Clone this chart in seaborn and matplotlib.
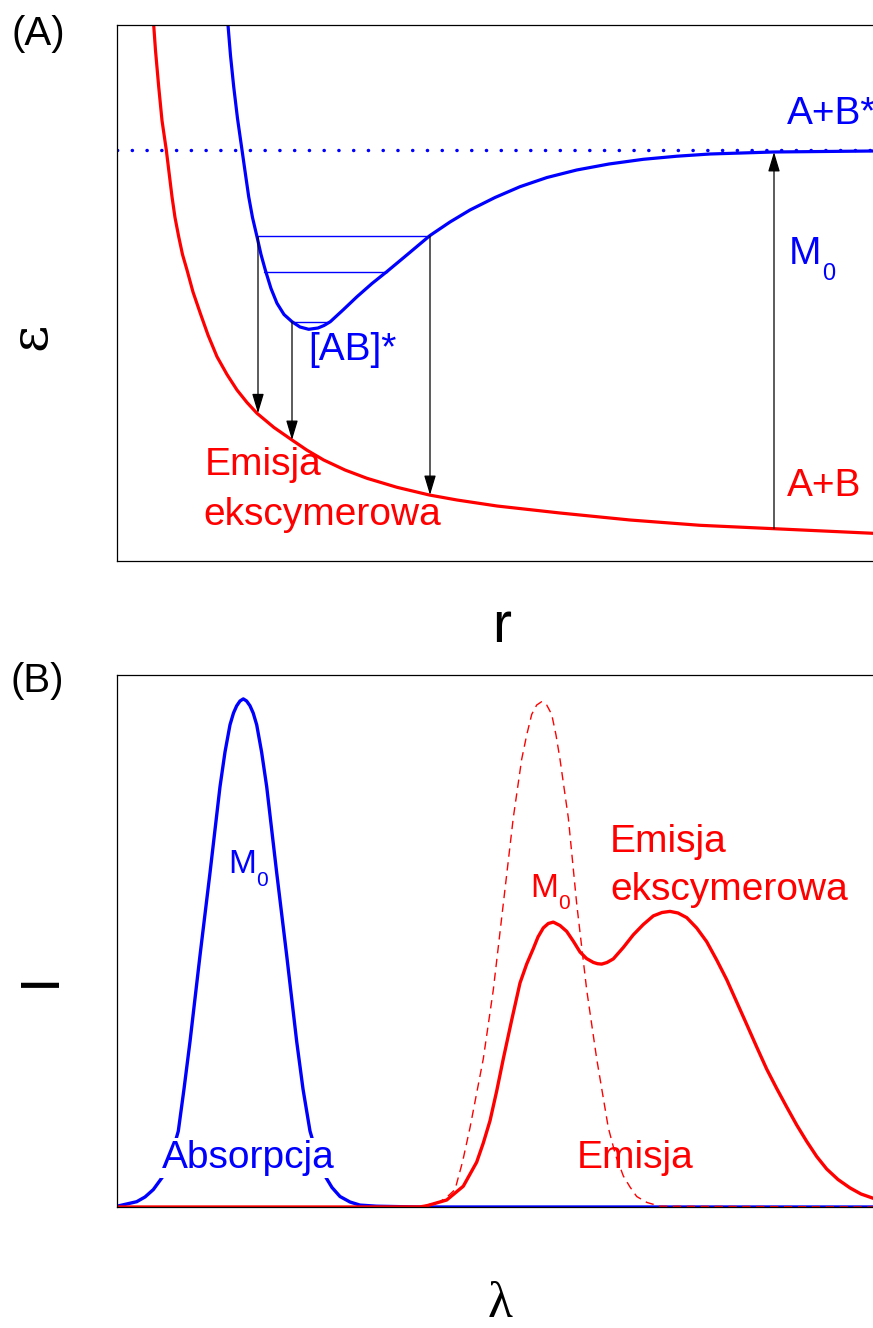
import matplotlib
matplotlib.use('Agg')
import matplotlib.pyplot as plt
import numpy as np
import pandas as pd
import seaborn as sns

# ---------------- data (arbitrary units) ----------------
# (A) potential energy curves, r on x, energy on y
r_ground = [36.7, 38.5, 41.7, 45.0, 49.3, 55.0, 58.0, 61.7, 65.5, 70.0, 76.0, 83.3, 91.0,
            100.0, 110.0, 120.0, 130.0, 140.0, 157.0, 175.0, 190.0, 206.7, 228.0, 250.0,
            280.0, 312.3, 340.0, 380.0, 443.0, 513.0, 583.0, 657.0, 756.0, 763.0]
e_ground = [535.5, 510.0, 473.8, 440.0, 410.5, 363.8, 343.0, 323.8, 306.0, 290.5, 268.5, 247.2, 225.5,
            203.8, 186.0, 170.5, 158.0, 147.2, 133.0, 120.5, 110.3, 100.5, 90.5, 82.2,
            73.2, 65.5, 60.5, 54.5, 47.5, 40.5, 35.2, 31.8, 27.2, 26.9]

r_excited = [111.0, 113.5, 116.7, 120.5, 125.0, 128.5, 131.7, 135.5, 140.0, 144.0, 148.3, 154.0,
             160.0, 167.0, 175.0, 183.0, 191.7, 201.0, 207.0, 213.3, 226.0, 240.0, 255.0,
             270.0, 291.0, 313.0, 333.0, 353.0, 378.0, 403.0, 430.0, 459.7, 492.0, 526.3,
             560.0, 593.0, 656.3, 756.0, 763.0]
e_excited = [535.5, 505.0, 473.8, 442.0, 410.5, 386.0, 363.8, 343.0, 323.8, 306.0, 290.5, 272.0,
             257.2, 246.0, 238.8, 233.5, 231.2, 232.5, 235.0, 238.8, 250.5, 263.8, 277.0,
             289.0, 306.5, 325.0, 338.5, 350.5, 363.0, 373.8, 383.0, 390.5, 396.5, 401.2,
             404.3, 406.5, 408.5, 409.5, 409.5]

e_dissoc = 410.2  # A+B* asymptote (dotted)

# vibrational levels of [AB]*: (energy, r_start, r_end)
levels = [(324.0, 141.0, 313.0), (288.8, 147.0, 270.0), (238.8, 175.0, 211.7)]

# transitions: (r, e_from, e_to)
transitions = [(141.0, 323.8, 147.2), (175.0, 238.8, 120.5), (313.0, 324.5, 65.5),
               (657.0, 31.8, 408.5)]

# (B) spectra, wavelength on x, intensity on y
lam_abs = [0.0, 19.7, 28.0, 36.3, 46.3, 54.0, 61.3, 67.0, 73.0, 83.0, 93.0, 103.0, 108.0,
           113.0, 116.5, 119.7, 123.0, 126.3, 129.6, 133.0, 136.2, 139.7, 144.6, 149.7,
           159.7, 169.7, 179.7, 186.0, 193.0, 200.0, 208.0, 215.0, 223.0, 233.0, 243.0,
           259.7, 300.0, 763.0]
i_abs = [0.8, 5.3, 10.0, 17.4, 31.1, 50.0, 75.9, 118.0, 165.4, 251.5, 334.2, 420.3, 455.0,
         482.2, 494.0, 501.2, 506.0, 508.1, 506.0, 501.2, 494.0, 482.2, 455.0, 420.3,
         334.2, 251.5, 165.4, 118.0, 75.9, 52.0, 31.1, 19.5, 10.5, 5.0, 1.9,
         0.8, 0.0, 0.0]

lam_mono = [0.0, 303.0, 323.0, 330.5, 338.0, 345.5, 353.0, 366.3, 376.3, 386.3, 396.3, 404.7,
            409.7, 414.7, 419.7, 424.7, 429.7, 434.7, 439.0, 443.0, 451.3, 459.7, 469.7,
            479.7, 491.3, 498.5, 506.3, 513.0, 519.7, 530.0, 543.0, 763.0]
i_mono = [0.0, 0.1, 5.3, 10.5, 17.4, 45.0, 79.3, 148.2, 217.1, 303.2, 389.3, 447.8,
          472.0, 492.6, 502.0, 505.3, 502.0, 492.6, 472.0, 447.8, 389.3, 303.2, 217.1,
          148.2, 79.3, 52.0, 31.1, 20.0, 10.5, 4.5, 0.8, 0.0]

lam_exc = [0.0, 250.0, 303.0, 309.7, 329.7, 346.3, 359.7, 366.3, 373.0, 379.7, 386.3, 394.7,
           403.0, 409.7, 416.3, 421.0, 426.3, 431.3, 436.3, 443.0, 449.7, 456.5, 463.0,
           469.5, 476.3, 480.5, 484.7, 490.0, 496.3, 506.3, 516.3, 526.3, 536.3, 545.0,
           553.0, 561.0, 569.7, 579.7, 589.7, 599.7, 609.7, 619.7, 629.7, 639.7, 649.7,
           659.7, 669.7, 679.7, 689.7, 699.7, 709.7, 721.0, 733.0, 744.0, 756.0, 763.0]
i_exc = [0.0, 0.0, 0.1, 1.2, 7.0, 20.8, 44.9, 64.0, 86.2, 116.0, 148.2, 187.0,
         224.0, 243.0, 258.4, 270.0, 279.1, 283.5, 284.9, 281.5, 275.6, 265.5, 255.0,
         248.5, 244.6, 243.3, 242.9, 244.5, 248.1, 259.5, 272.2, 282.5, 291.1, 294.5,
         295.6, 294.0, 289.4, 279.0, 265.3, 247.0, 227.4, 205.0, 182.6, 160.0, 137.9,
         118.5, 100.0, 82.0, 65.6, 50.5, 38.0, 27.5, 19.1, 13.0, 8.8, 7.0]

BLUE = '#0000ff'
RED = '#ff0000'

sns.set_style('white')
plt.rcParams['font.family'] = ['Liberation Sans', 'DejaVu Sans']
plt.rcParams['text.color'] = 'black'

W, H = 873, 1328
fig = plt.figure(figsize=(W / 100, H / 100), dpi=100)
axA = fig.add_axes([117 / W, 1 - 560.5 / H, 763 / W, 535.5 / H])
axB = fig.add_axes([117 / W, 1 - 1207 / H, 763 / W, 532 / H])

# ---------------- panel A ----------------
dfg = pd.DataFrame({'r': r_ground, 'E': e_ground})
dfe = pd.DataFrame({'r': r_excited, 'E': e_excited})
sns.lineplot(data=dfg, x='r', y='E', ax=axA, color=RED, lw=2.3, sort=False, estimator=None)
sns.lineplot(data=dfe, x='r', y='E', ax=axA, color=BLUE, lw=2.3, sort=False, estimator=None)
axA.axhline(e_dissoc, color=BLUE, lw=2.5, linestyle=(0, (0.05, 4.2)), dash_capstyle='round')

for e, r0, r1 in levels:
    axA.plot([r0, r1], [e, e], color=BLUE, lw=1.0)

for r, e0, e1 in transitions:
    axA.annotate('', xy=(r, e1), xytext=(r, e0),
                 arrowprops=dict(arrowstyle='-|>,head_length=0.6,head_width=0.18',
                                 color='black', lw=0.9, shrinkA=0, shrinkB=0,
                                 mutation_scale=20))

fs = 28
axA.text(669.7, 436.2, 'A+B*', color=BLUE, fontsize=fs, va='baseline')
axA.text(672.0, 296.5, 'M', color=BLUE, fontsize=fs, va='baseline')
axA.text(704.7, 280.5, '0', color=BLUE, fontsize=17, va='baseline')
axA.text(191.7, 200.5, '[AB]*', color=BLUE, fontsize=fs, va='baseline')
axA.text(87.3, 85.5, 'Emisja', color=RED, fontsize=fs, va='baseline')
axA.text(86.0, 35.5, 'ekscymerowa', color=RED, fontsize=fs, va='baseline')
axA.text(670.3, 64.5, 'A+B', color=RED, fontsize=fs, va='baseline')

axA.set_xlim(0, 763)
axA.set_ylim(0, 535.5)

# ---------------- panel B ----------------
dfa = pd.DataFrame({'lam': lam_abs, 'I': i_abs})
dfm = pd.DataFrame({'lam': lam_mono, 'I': i_mono})
dfx = pd.DataFrame({'lam': lam_exc, 'I': i_exc})
sns.lineplot(data=dfa, x='lam', y='I', ax=axB, color=BLUE, lw=2.4, sort=False, estimator=None)
sns.lineplot(data=dfx, x='lam', y='I', ax=axB, color=RED, lw=2.4, sort=False, estimator=None)
sns.lineplot(data=dfm, x='lam', y='I', ax=axB, color=RED, lw=1.0, sort=False, estimator=None,
             linestyle=(0, (6, 4)))

axB.text(111.3, 334.2, 'M', color=BLUE, fontsize=24, va='baseline')
axB.text(138.7, 321.0, '0', color=BLUE, fontsize=15, va='baseline')
axB.text(45.0, 39.0, 'Absorpcja', color=BLUE, fontsize=fs, va='baseline',
         bbox=dict(facecolor='white', edgecolor='none', pad=1.5))
axB.text(413.0, 310.0, 'M', color=RED, fontsize=24, va='baseline')
axB.text(441.0, 298.0, '0', color=RED, fontsize=15, va='baseline')
axB.text(493.0, 355.0, 'Emisja', color=RED, fontsize=fs, va='baseline')
axB.text(493.0, 306.6, 'ekscymerowa', color=RED, fontsize=fs, va='baseline')
axB.text(460.0, 39.0, 'Emisja', color=RED, fontsize=fs, va='baseline')

axB.set_xlim(0, 763)
axB.set_ylim(0, 532)

for ax in (axA, axB):
    ax.set_xticks([])
    ax.set_yticks([])
    ax.set_xlabel('')
    ax.set_ylabel('')
    for s in ax.spines.values():
        s.set_color('black')
        s.set_linewidth(0.9)

# panel letters and axis labels
fig.text(11.7 / W, 1 - 45 / H, '(A)', fontsize=29, va='baseline', color='black')
fig.text(10.7 / W, 1 - 692 / H, '(B)', fontsize=29, va='baseline', color='black')
fig.text(502 / W, 1 - 642 / H, 'r', fontsize=41, ha='center', va='baseline', color='black')
fig.text(500 / W, 1 - 1317 / H, 'λ', fontsize=37, ha='center', va='baseline', color='black',
         family=['Liberation Serif', 'DejaVu Serif'])
fig.text(45 / W, 1 - 336 / H, 'ε', fontsize=38, ha='center', va='baseline', color='black',
         rotation=90, rotation_mode='anchor', family=['DejaVu Serif', 'DejaVu Sans'])
fig.text(55 / W, 1 - 979 / H, 'I', fontsize=40, ha='center', va='baseline', color='black',
         rotation=90, rotation_mode='anchor')

fig.savefig('out.png', dpi=100)
